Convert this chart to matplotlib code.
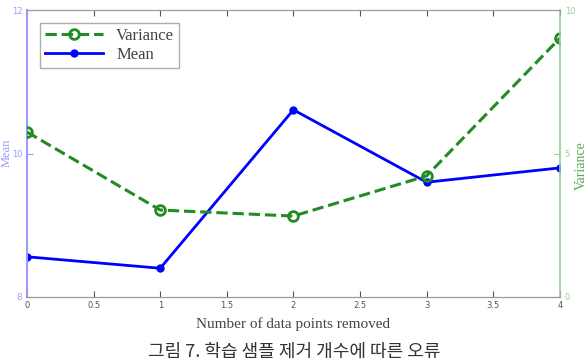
import matplotlib.pyplot as plt

# data
x = [0, 1, 2, 3, 4]
mean = [8.56, 8.40, 10.61, 9.60, 9.80]
variance = [5.75, 3.03, 2.82, 4.22, 9.02]

fig = plt.figure(figsize=(5.88, 3.63), dpi=100)
ax = fig.add_axes([0.046, 0.182, 0.906, 0.79])
ax2 = ax.twinx()

blue = '#0000ff'
green = '#228b22'
light_blue = '#9999ff'
light_green = '#99cc99'

l1, = ax.plot(x, mean, '-', color=blue, lw=2, marker='o', ms=5, label='Mean')
l2, = ax2.plot(x, variance, '--', color=green, lw=2.2, marker='o', ms=7,
               mfc='none', mec=green, mew=2, label='Variance')

ax.set_xlim(0, 4)
ax.set_ylim(8, 12)
ax2.set_ylim(0, 10)
ax.set_xticks([0, 0.5, 1, 1.5, 2, 2.5, 3, 3.5, 4])
ax.set_xticklabels(['0', '0.5', '1', '1.5', '2', '2.5', '3', '3.5', '4'])
ax.set_yticks([8, 10, 12])
ax2.set_yticks([0, 5, 10])

ax.tick_params(axis='x', direction='in', labelsize=6, colors='#555555', length=4,
               top=True, pad=3)
ax.tick_params(axis='y', direction='in', labelsize=6, colors=light_blue, length=4)
ax2.tick_params(axis='y', direction='in', labelsize=6, colors=light_green, length=4)

for s in ['top', 'bottom']:
    ax.spines[s].set_color('#999999')
    ax2.spines[s].set_color('#999999')
ax.spines['left'].set_color(light_blue)
ax.spines['left'].set_linewidth(1.5)
ax2.spines['left'].set_visible(False)
ax.spines['right'].set_visible(False)
ax2.spines['right'].set_color(light_green)
ax2.spines['right'].set_linewidth(1.2)

serif = 'Liberation Serif'
ax.set_xlabel('Number of data points removed', fontsize=11, family=serif,
              color='#444444', labelpad=5)
# y labels sit at the very edges of the figure
fig.text(0.001, 0.58, 'Mean', rotation=90, ha='left', va='center', fontsize=9,
         family=serif, color=light_blue)
fig.text(0.999, 0.545, 'Variance', rotation=90, ha='right', va='center',
         fontsize=10, family=serif, color='#55aa55')

leg = ax.legend([l2, l1], ['Variance', 'Mean'], loc='upper left',
                bbox_to_anchor=(0.008, 0.985), prop={'family': serif, 'size': 12},
                fancybox=False, edgecolor='#999999', handlelength=3.5,
                borderpad=0.3, labelspacing=0.2)
for t in leg.get_texts():
    t.set_color('#444444')

fig.text(0.5, 0.018, '그림 7. 학습 샘플 제거 개수에 따른 오류', ha='center',
         fontsize=13, family='Noto Sans CJK KR', color='#333333')

plt.savefig('out.png', dpi=100)
